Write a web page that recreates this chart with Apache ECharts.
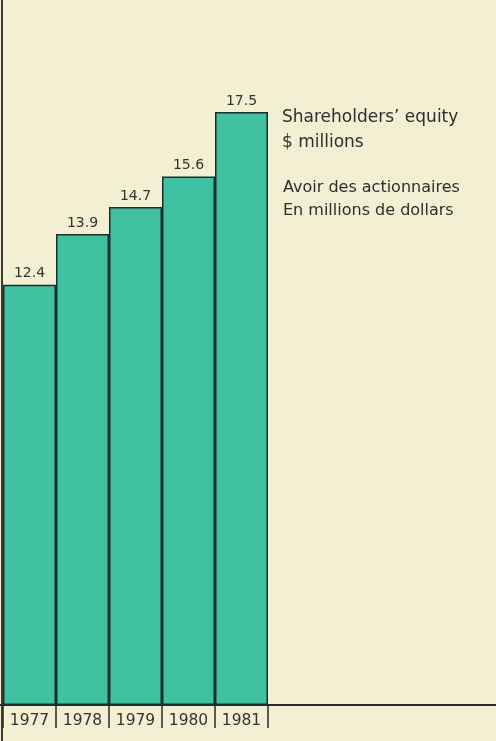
<!DOCTYPE html>
<html>
<head>
<meta charset="utf-8">
<script src="https://cdn.jsdelivr.net/npm/echarts@6/dist/echarts.min.js"></script>
<style>
html,body{margin:0;padding:0;background:#f3efd3;}
#chart{width:496px;height:741px;}
</style>
</head>
<body>
<div id="chart"></div>
<script>
const years = ['1977', '1978', '1979', '1980', '1981'];
const equity = [12.4, 13.9, 14.7, 15.6, 17.5];
const titleLines = ['Shareholders\u2019 equity', '$ millions'];
const frenchLines = ['Avoir des actionnaires', 'En millions de dollars'];

const chart = echarts.init(document.getElementById('chart'));
const font = 'DejaVu Sans';
chart.setOption({
  backgroundColor: '#f3efd3',
  animation: false,
  grid: { left: 3, right: 228, top: 112, bottom: 36 },
  xAxis: {
    type: 'category',
    data: years,
    boundaryGap: true,
    axisLine: { show: false },
    axisTick: { show: true, length: 23, inside: false, alignWithLabel: false, lineStyle: { color: '#2a2a2a', width: 1.5 } },
    axisLabel: { color: '#333', fontFamily: font, fontSize: 15.5, margin: 8, interval: 0 }
  },
  yAxis: {
    type: 'value', min: 0, max: 17.5,
    show: false
  },
  series: [{
    type: 'bar',
    data: equity,
    barWidth: '100%',
    itemStyle: { color: '#40c1a2', borderColor: '#1c2e2a', borderWidth: 1.5 },
    label: { show: true, position: 'top', distance: 4, color: '#333', fontFamily: font, fontSize: 14 }
  }],
  graphic: [
    { type: 'line', shape: { x1: 0, y1: 705, x2: 496, y2: 705 }, style: { stroke: '#2a2a2a', lineWidth: 2 } },
    { type: 'line', shape: { x1: 2, y1: 0, x2: 2, y2: 741 }, style: { stroke: '#3a3a3a', lineWidth: 2 } },
    { type: 'text', left: 282, top: 105, style: { text: titleLines.join('\n'), font: '17px "' + font + '"', fill: '#2e2e2e', lineHeight: 25 } },
    { type: 'text', left: 283, top: 176, style: { text: frenchLines.join('\n'), font: '16px "' + font + '"', fill: '#2e2e2e', lineHeight: 23 } }
  ]
});
</script>
</body>
</html>
